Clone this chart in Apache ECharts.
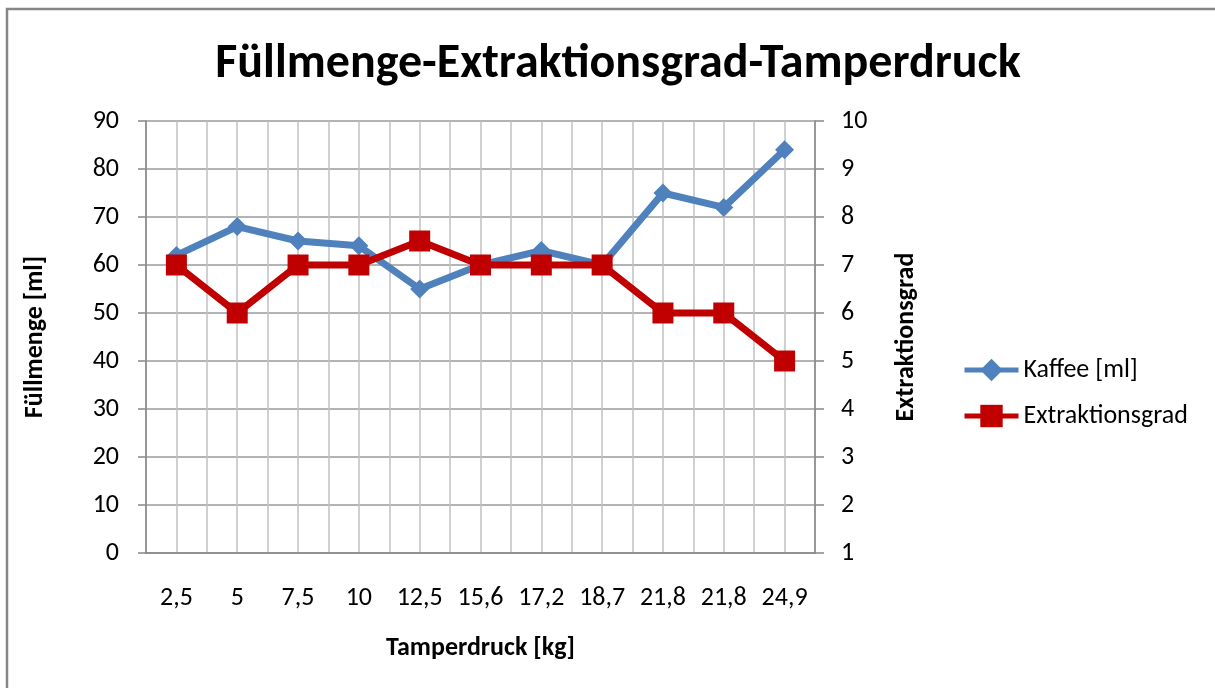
<!DOCTYPE html>
<html><head><meta charset="utf-8">
<script src="https://cdn.jsdelivr.net/npm/echarts@6/dist/echarts.min.js"></script>
<style>html,body{margin:0;padding:0;background:#fff}#c{width:1215px;height:688px}</style>
</head><body><div id="c"></div>
<script>
var categories = ['2,5','5','7,5','10','12,5','15,6','17,2','18,7','21,8','21,8','24,9'];
var kaffee = [62, 68, 65, 64, 55, 60, 63, 60, 75, 72, 84];
var extraktion = [7, 6, 7, 7, 7.5, 7, 7, 7, 6, 6, 5];
var leftTicks = {min: 0, max: 90, interval: 10};
var rightTicks = {min: 1, max: 10, interval: 1};

var FONT = "Carlito, 'Open Sans', 'Noto Sans', sans-serif";
var chart = echarts.init(document.getElementById('c'), null, {renderer: 'canvas'});
var gridRect = {left: 146, right: 400, top: 121, bottom: 135};
chart.setOption({
  backgroundColor: '#fff',
  animation: false,
  textStyle: {fontFamily: FONT, color: '#000'},
  title: {
    text: 'Füllmenge-Extraktionsgrad-Tamperdruck',
    left: 613, textAlign: 'center', top: 36,
    textStyle: {fontFamily: FONT, fontSize: 48, fontWeight: 'bold', color: '#000'}
  },
  graphic: [{
    type: 'polyline', silent: true,
    shape: {points: [[7, 700], [7, 9], [1225, 9]]},
    style: {stroke: '#868686', lineWidth: 2.5, fill: null}
  }],
  legend: {
    orient: 'vertical', left: 962, top: 357, itemGap: 20, padding: 0,
    itemWidth: 54, itemHeight: 28,
    lineStyle: {width: 5},
    textStyle: {fontFamily: FONT, fontSize: 26, color: '#000', padding: [0, 0, 0, 0]},
    data: ['Kaffee [ml]', 'Extraktionsgrad']
  },
  grid: gridRect,
  xAxis: [{
    type: 'category', data: categories, boundaryGap: true,
    name: 'Tamperdruck [kg]', nameLocation: 'middle', nameGap: 82,
    nameTextStyle: {fontFamily: FONT, fontSize: 26, fontWeight: 'bold', color: '#000'},
    axisLine: {lineStyle: {color: '#868686', width: 1.5}},
    axisTick: {show: false},
    axisLabel: {fontFamily: FONT, fontSize: 26, color: '#000', margin: 32, interval: 0},
    splitLine: {show: false}
  }, {
    type: 'value', min: 0, max: 22, interval: 1, show: true, position: 'bottom',
    axisLine: {show: false}, axisTick: {show: false}, axisLabel: {show: false},
    splitLine: {show: true, lineStyle: {color: '#c0c0c0', width: 1.5}}
  }],
  yAxis: [{
    type: 'value', min: leftTicks.min, max: leftTicks.max, interval: leftTicks.interval,
    position: 'left',
    name: 'Füllmenge [ml]', nameLocation: 'middle', nameGap: 98, nameRotate: 90,
    nameTextStyle: {fontFamily: FONT, fontSize: 26, fontWeight: 'bold', color: '#000'},
    axisLine: {show: true, lineStyle: {color: '#868686', width: 1.5}},
    axisTick: {show: true, length: 8, lineStyle: {color: '#868686', width: 1.5}},
    axisLabel: {fontFamily: FONT, fontSize: 26, color: '#000', margin: 27},
    splitLine: {show: true, lineStyle: {color: '#9a9a9a', width: 1.5}}
  }, {
    type: 'value', min: rightTicks.min, max: rightTicks.max, interval: rightTicks.interval,
    position: 'right',
    name: 'Extraktionsgrad', nameLocation: 'middle', nameGap: 78, nameRotate: 90,
    nameTextStyle: {fontFamily: FONT, fontSize: 26, fontWeight: 'bold', color: '#000'},
    axisLine: {show: true, lineStyle: {color: '#868686', width: 1.5}},
    axisTick: {show: true, length: 9, lineStyle: {color: '#868686', width: 1.5}},
    axisLabel: {fontFamily: FONT, fontSize: 26, color: '#000', margin: 26},
    splitLine: {show: false}
  }],
  series: [{
    name: 'Kaffee [ml]', type: 'line', xAxisIndex: 0, yAxisIndex: 0,
    data: kaffee,
    symbol: 'diamond', symbolSize: 19,
    lineStyle: {color: '#4f81bd', width: 7},
    itemStyle: {color: '#4f81bd'}
  }, {
    name: 'Extraktionsgrad', type: 'line', xAxisIndex: 0, yAxisIndex: 1,
    data: extraktion,
    symbol: 'rect', symbolSize: 21,
    lineStyle: {color: '#c00000', width: 7},
    itemStyle: {color: '#c00000'}
  }]
});
</script>
</body></html>
